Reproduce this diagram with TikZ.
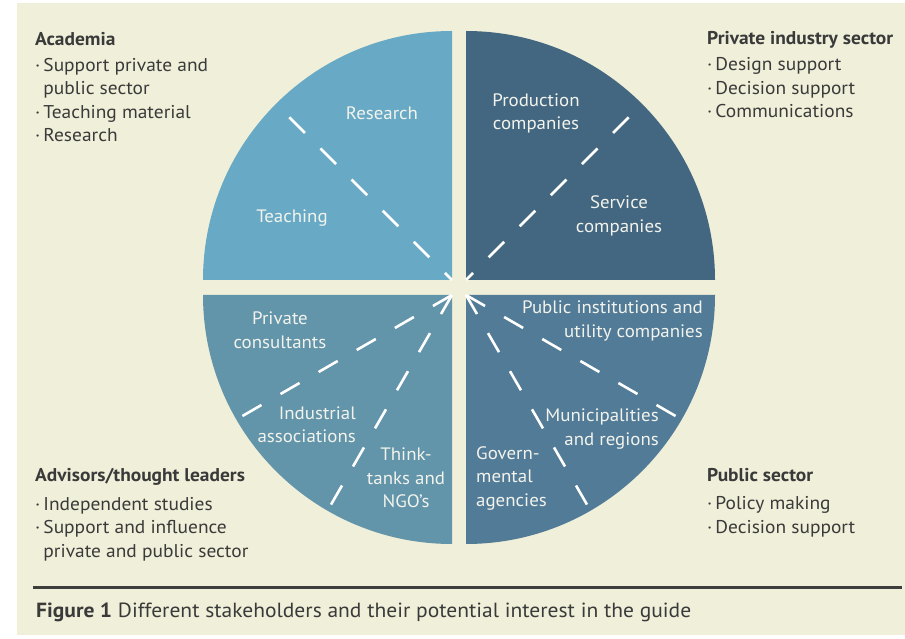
\documentclass[tikz,border=0pt]{standalone}
\usepackage{fontspec}
\setmainfont{PT Sans}[FakeStretch=1.05]
\usetikzlibrary{calc}
\definecolor{bgcream}{RGB}{240,239,217}
\definecolor{qacad}{RGB}{104,170,198}
\definecolor{qind}{RGB}{67,103,128}
\definecolor{qadv}{RGB}{98,148,170}
\definecolor{qpub}{RGB}{82,123,151}
\definecolor{txtdark}{RGB}{58,58,58}
\definecolor{txtlight}{RGB}{242,243,236}
\definecolor{rulegray}{RGB}{62,62,60}
\newcommand{\Itm}{\textperiodcentered\,}
\newcommand{\ItmPad}{\phantom{\textperiodcentered\,}}
\newcommand{\Quarter}[3]{\fill[#1] (#2) -- ++(#3:249pt) arc[start angle=#3, delta angle=90, radius=249pt] -- cycle;}

\begin{document}
\begin{tikzpicture}[x=1pt,y=1pt,
  ray/.style={draw=white,line width=2.6pt,dash pattern=on 22pt off 22pt},
  topray/.style={ray,dash phase=12pt},
  seglabel/.style={text=txtlight,inner sep=0pt,font=\fontsize{18}{23.5}\selectfont},
  block/.style={text=txtdark,inner sep=0pt,align=left,font=\fontsize{18.5}{23.5}\selectfont}]
\fill[white] (0,0) rectangle (905,638);
\fill[bgcream] (17,3) rectangle (905,635);
\useasboundingbox (0,0) rectangle (905,638);

% quarter corners
\coordinate (cTL) at (452,358);
\coordinate (cTR) at (466,358);
\coordinate (cBL) at (452,343);
\coordinate (cBR) at (466,343);

\Quarter{qacad}{cTL}{90}
\Quarter{qind}{cTR}{0}
\Quarter{qadv}{cBL}{180}
\Quarter{qpub}{cBR}{270}

\draw[topray] (cTL) -- ++(135:249pt);
\draw[topray] (cTR) -- ++(45:249pt);
\foreach \a in {210,240}
  \draw[ray] (cBL) -- ++(\a:249pt);
\foreach \a in {-30,-60}
  \draw[ray] (cBR) -- ++(\a:249pt);

% segment labels
\node[seglabel] (research) at (382,524.5) {Research};
\node[seglabel] (teaching) at (292,419.5) {Teaching};
\node[seglabel,align=center] (production) at (536,524.5) {Production\\companies};
\node[seglabel,align=center] (service) at (619,422) {Service\\companies};
\node[seglabel,align=right,anchor=east] (institutions) at (703,317) {Public institutions and\\utility companies};
\node[seglabel,align=right,anchor=east] (municipalities) at (659,209) {Municipalities\\and regions};
\node[seglabel,align=left,anchor=west] (agencies) at (476,160) {Govern-\\mental\\agencies};
\node[seglabel,align=center] (consultants) at (280,308) {Private\\consultants};
\node[seglabel,align=right,anchor=east] (associations) at (356,213.5) {Industrial\\associations};
\node[seglabel,align=center] (thinktanks) at (406,160) {Think-\\tanks and\\NGO’s};

% stakeholder groups (base = last line)
\node[block,anchor=base west] (academia) at (35,496) {\textbf{Academia}\\[2.5pt]
  \Itm Support private and\\ \ItmPad public sector\\ \Itm Teaching material\\ \Itm Research};
\node[block,anchor=base west] (industry) at (707,520) {\textbf{Private industry sector}\\[2.5pt]
  \Itm Design support\\ \Itm Decision support\\ \Itm Communications};
\node[block,anchor=base west] (advisors) at (35,81) {\textbf{Advisors/thought leaders}\\[5pt]
  \Itm Independent studies\\ \Itm Support and influence\\ \ItmPad private and public sector};
\node[block,anchor=base west] (public) at (707,105) {\textbf{Public sector}\\[5pt]
  \Itm Policy making\\ \Itm Decision support};

\draw[rulegray,line width=3pt] (33,50.5) -- (902,50.5);
\node[text=txtdark,inner sep=0pt,anchor=base west,font=\fontsize{20.5}{24}\selectfont] (caption) at (36,21)
  {\textbf{Figure 1} Different stakeholders and their potential interest in the guide};
\end{tikzpicture}
\end{document}
